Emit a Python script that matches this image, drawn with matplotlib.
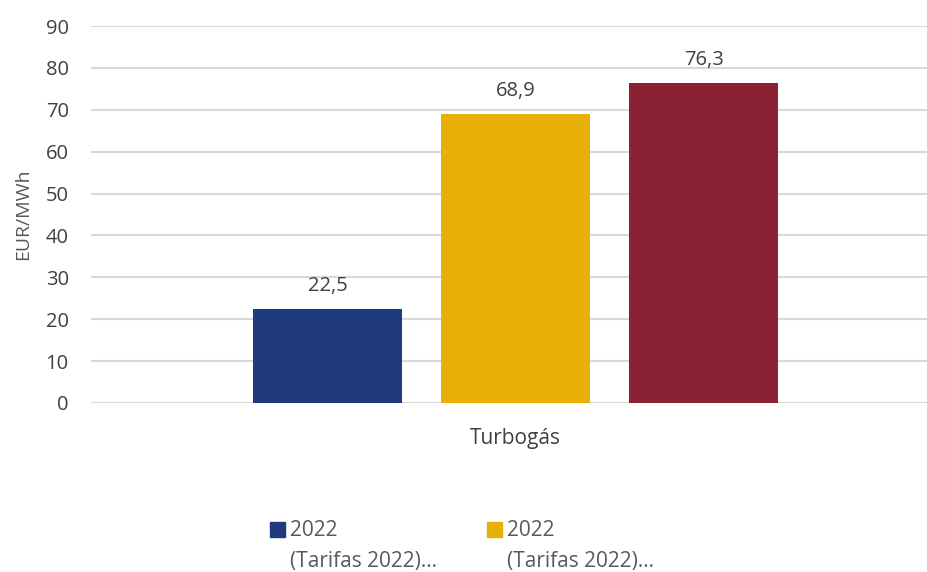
import matplotlib
matplotlib.use("Agg")
import matplotlib.pyplot as plt
from matplotlib.patches import Rectangle

plt.rcParams['font.family'] = ['Open Sans', 'DejaVu Sans']

categories = ["Turbogás"]
series_names = ["2022\n(Tarifas 2022)…", "2022\n(Tarifas 2022)…", "2023"]
series_values = [[22.5], [68.9], [76.3]]
value_labels = ["22,5", "68,9", "76,3"]
colors = ["#1f3a7d", "#e8b007", "#8b2234"]
yticks = [0, 10, 20, 30, 40, 50, 60, 70, 80, 90]

W, H = 927, 572
fig = plt.figure(figsize=(W/100, H/100), dpi=100)
ax = fig.add_axes([91/W, 1 - 403/H, 1 - 91/W, (403 - 26)/H])

bar_w = 0.25
step = 0.3154
offsets = [-step, 0, step]
for i, (name, vals) in enumerate(zip(series_names, series_values)):
    xs = [c + offsets[i] for c in range(len(categories))]
    bars = ax.bar(xs, vals, width=bar_w, color=colors[i], zorder=3)
    for b in bars:
        ax.annotate(value_labels[i], (b.get_x() + b.get_width()/2, b.get_height()),
                    xytext=(0, 9.5), textcoords='offset points', ha='center', va='bottom',
                    fontsize=14.5, color='#404040')

ax.set_xlim(-0.712, 0.690)
ax.set_ylim(0, 90)
ax.set_yticks(yticks)
ax.set_yticklabels([str(t) for t in yticks], fontsize=14.5, color='#404040')
ax.yaxis.grid(True, color='#d9d9d9', linewidth=1.5, zorder=0)
ax.set_xticks(range(len(categories)))
ax.set_xticklabels(categories, fontsize=15, color='#404040')
ax.tick_params(axis='both', length=0)
ax.tick_params(axis='x', pad=18)
ax.tick_params(axis='y', pad=16)
for s in ax.spines.values():
    s.set_visible(False)
ax.set_ylabel("EUR/MWh", fontsize=14, color='#595959')
ax.yaxis.set_label_coords(-0.070, 0.5)

# legend (only the first two entries are visible in the reference)
leg_x = [270, 487]
for i in range(2):
    x0 = leg_x[i]
    fig.patches.append(Rectangle((x0/W, 1 - 537/H), 15/W, 15/H, transform=fig.transFigure,
                                 color=colors[i], figure=fig))
    for j, ln in enumerate(series_names[i].split("\n")):
        fig.text((x0 + 20)/W, 1 - (531 + 30*j)/H, ln, fontsize=15, color='#595959',
                 ha='left', va='center')

fig.savefig("out.png", dpi=100)
